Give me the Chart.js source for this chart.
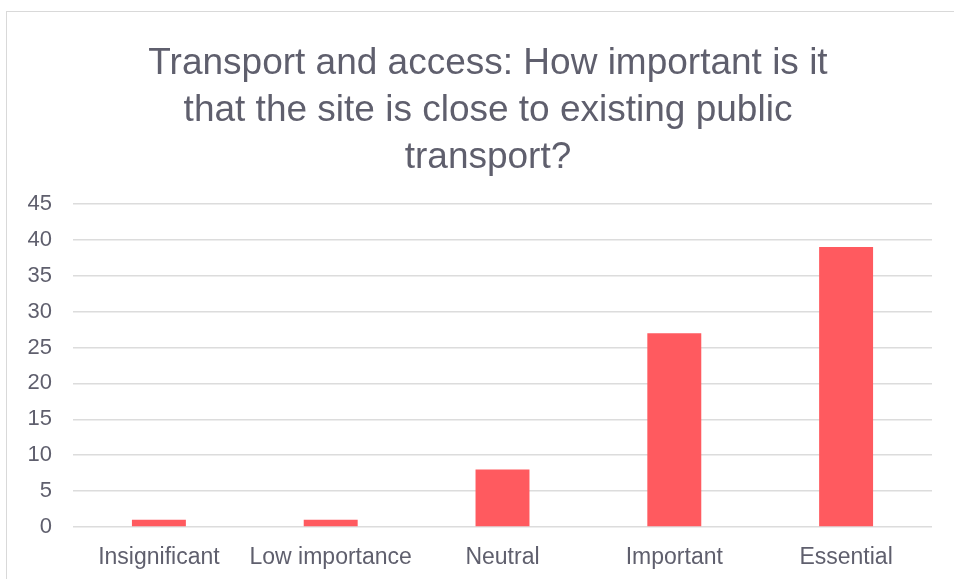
<!DOCTYPE html>
<html>
<head>
<meta charset="utf-8">
<script src="https://cdn.jsdelivr.net/npm/chart.js@4.4.1/dist/chart.umd.min.js"></script>
<style>
  html, body { margin: 0; padding: 0; background: #ffffff; }
  #wrap { position: relative; width: 954px; height: 579px; overflow: hidden; }
  #frame { position: absolute; left: 6px; top: 11px; width: 1000px; height: 640px;
           border-left: 1px solid #d9d9d9; border-top: 1px solid #d9d9d9; }
  #chart { position: absolute; left: 0; top: 0; }
</style>
</head>
<body>
<div id="wrap">
  <div id="frame"></div>
  <canvas id="chart" width="954" height="579"></canvas>
</div>
<script>
const titleLines = [
  'Transport and access: How important is it',
  'that the site is close to existing public',
  'transport?'
];
const categories = ['Insignificant', 'Low importance', 'Neutral', 'Important', 'Essential'];
const responses = [1, 1, 8, 27, 39];
const yTicks = [0, 5, 10, 15, 20, 25, 30, 35, 40, 45];

const textColor = '#5f5f6d';
const fontFamily = '"Liberation Sans", Arial, sans-serif';

// The title is centred on the whole framed chart, not just the plot region.
const titleOffset = {
  id: 'titleOffset',
  afterLayout(chart) {
    if (chart.titleBlock) {
      chart.titleBlock.left += 31;
    }
  }
};

new Chart(document.getElementById('chart'), {
  type: 'bar',
  data: {
    labels: categories,
    datasets: [{
      data: responses,
      backgroundColor: '#ff5a5f',
      borderWidth: 0,
      categoryPercentage: 1,
      barPercentage: 0.314
    }]
  },
  plugins: [titleOffset],
  options: {
    responsive: false,
    animation: false,
    layout: { padding: { left: 13, right: 22, top: 0, bottom: 0 } },
    plugins: {
      legend: { display: false },
      tooltip: { enabled: false },
      title: {
        display: true,
        text: titleLines,
        color: textColor,
        font: { family: fontFamily, size: 37, weight: 'normal', lineHeight: 1.27 },
        padding: { top: 40, bottom: 23 }
      }
    },
    scales: {
      x: {
        grid: { display: false },
        border: { display: false },
        ticks: {
          color: textColor,
          font: { family: fontFamily, size: 23 },
          padding: 9,
          maxRotation: 0,
          autoSkip: false
        },
        afterFit: (scale) => { scale.height = 52; }
      },
      y: {
        min: 0,
        max: 45,
        afterBuildTicks: (scale) => { scale.ticks = yTicks.map(v => ({ value: v })); },
        grid: { color: '#dcdcdc', lineWidth: 1.5, drawTicks: false },
        border: { display: false },
        ticks: {
          color: textColor,
          font: { family: fontFamily, size: 22 },
          padding: 21
        },
        afterFit: (scale) => { scale.width = 60; }
      }
    }
  }
});
</script>
</body>
</html>
